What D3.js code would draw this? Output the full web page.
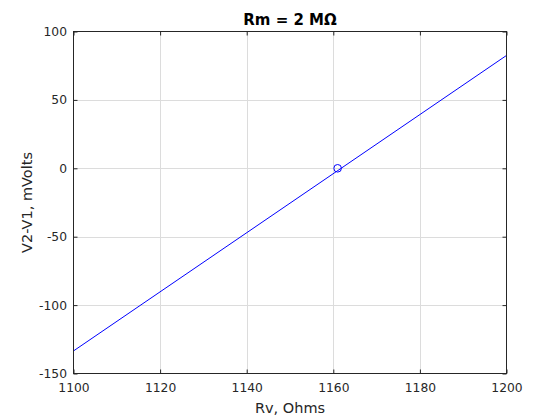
<!DOCTYPE html>
<html><head><meta charset="utf-8">
<script src="https://cdn.jsdelivr.net/npm/d3@7"></script>
<style>body{margin:0;background:#fff;} text{font-family:"DejaVu Sans",sans-serif;}</style>
</head><body>
<svg id="c" width="560" height="420"></svg>
<script>
const lineX = [1100, 1200];
const lineY = [-133.5, 82.5];
const markerX = [1161];
const markerY = [0];
const xTicks = [1100, 1120, 1140, 1160, 1180, 1200];
const yTicks = [-150, -100, -50, 0, 50, 100];

const svg = d3.select("#c");
const L = 73.5, R = 506.5, T = 31.5, B = 373.5;
const x = d3.scaleLinear().domain([1100, 1200]).range([L, R]);
const y = d3.scaleLinear().domain([-150, 100]).range([B, T]);
const fmt = d => String(d);

// grid
svg.append("g").selectAll("line").data(xTicks.slice(1, -1)).join("line")
  .attr("x1", d => Math.round(x(d)) + 0.5).attr("x2", d => Math.round(x(d)) + 0.5)
  .attr("y1", T).attr("y2", B).attr("stroke", "#dcdcdc").attr("stroke-width", 1);
svg.append("g").selectAll("line").data(yTicks.slice(1, -1)).join("line")
  .attr("y1", d => Math.round(y(d)) + 0.5).attr("y2", d => Math.round(y(d)) + 0.5)
  .attr("x1", L).attr("x2", R).attr("stroke", "#dcdcdc").attr("stroke-width", 1);

// data line
const pts = lineX.map((v, i) => [v, lineY[i]]);
svg.append("path").datum(pts)
  .attr("d", d3.line().x(d => x(d[0])).y(d => y(d[1])))
  .attr("fill", "none").attr("stroke", "#0000ff").attr("stroke-width", 1);

svg.append("g").selectAll("circle").data(markerX.map((v, i) => [v, markerY[i]])).join("circle")
  .attr("cx", d => x(d[0])).attr("cy", d => y(d[1])).attr("r", 3.8)
  .attr("fill", "none").attr("stroke", "#0000ff").attr("stroke-width", 1);

// box
svg.append("rect").attr("x", L).attr("y", T).attr("width", R - L).attr("height", B - T)
  .attr("fill", "none").attr("stroke", "#262626").attr("stroke-width", 1);

// axes with inward ticks
const xb = svg.append("g").attr("transform", `translate(0,${B})`)
  .call(d3.axisBottom(x).tickValues(xTicks).tickSizeInner(-4).tickSizeOuter(0).tickPadding(9.5).tickFormat(fmt));
const xt = svg.append("g").attr("transform", `translate(0,${T})`)
  .call(d3.axisTop(x).tickValues(xTicks).tickSizeInner(-4).tickSizeOuter(0).tickFormat(""));
const yl = svg.append("g").attr("transform", `translate(${L},0)`)
  .call(d3.axisLeft(y).tickValues(yTicks).tickSizeInner(-4).tickSizeOuter(0).tickPadding(6.5).tickFormat(fmt));
const yr = svg.append("g").attr("transform", `translate(${R},0)`)
  .call(d3.axisRight(y).tickValues(yTicks).tickSizeInner(-4).tickSizeOuter(0).tickFormat(""));
[xb, xt, yl, yr].forEach(g => {
  g.select(".domain").remove();
  g.selectAll("line").attr("stroke", "#262626");
  g.selectAll("text").attr("fill", "#262626").style("font-family", "DejaVu Sans, sans-serif").style("font-size", "12.3px");
});

svg.append("text").attr("x", (L + R) / 2).attr("y", 24.5).attr("text-anchor", "middle")
  .attr("font-size", "15px").attr("font-weight", "bold").attr("fill", "#000").text("Rm = 2 MΩ");
svg.append("text").attr("x", (L + R) / 2).attr("y", 412.7).attr("text-anchor", "middle")
  .attr("font-size", "14.5px").attr("fill", "#262626").text("Rv, Ohms");
svg.append("text").attr("transform", `translate(31.5,${(T + B) / 2}) rotate(-90)`).attr("text-anchor", "middle")
  .attr("font-size", "14.5px").attr("fill", "#262626").text("V2-V1, mVolts");
</script>
</body></html>
